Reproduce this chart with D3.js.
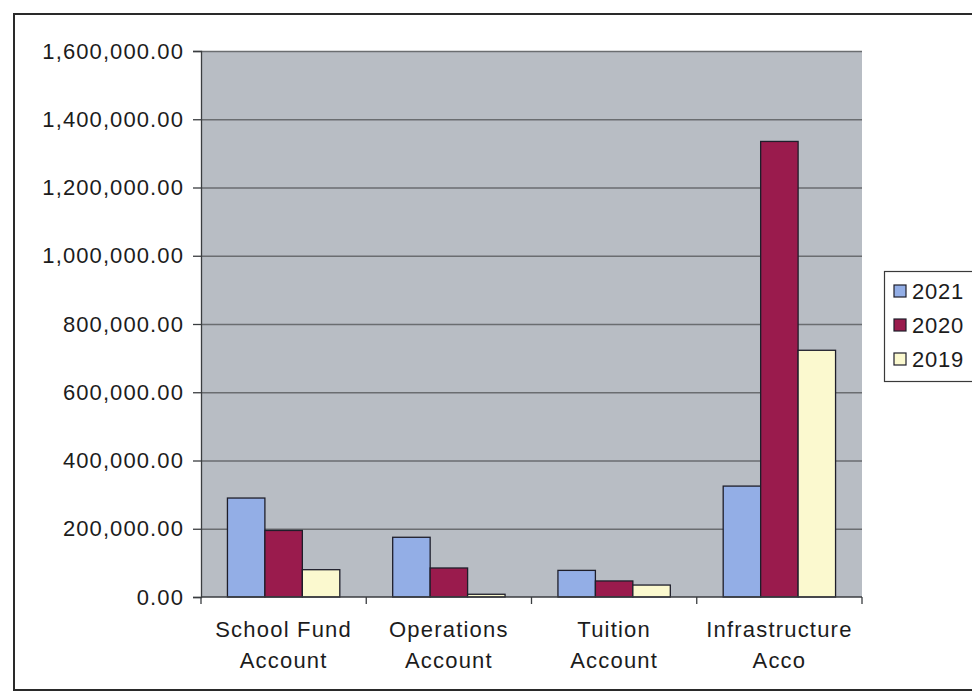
<!DOCTYPE html>
<html>
<head>
<meta charset="utf-8">
<script src="https://cdn.jsdelivr.net/npm/d3@7"></script>
<style>
  html, body { margin: 0; padding: 0; background: #ffffff; }
  svg { display: block; font-family: "Liberation Sans", Arial, sans-serif; }
</style>
</head>
<body>
<svg id="chart" width="972" height="694"></svg>
<script>
// Account balances by year
const categories = [["School Fund", "Account"], ["Operations", "Account"], ["Tuition", "Account"], ["Infrastructure", "Acco"]];
const seriesNames = ["2021", "2020", "2019"];
const values2021 = [290000, 175000, 78000, 325000];
const values2020 = [195000, 85000, 47000, 1335000];
const values2019 = [80000, 8000, 35000, 723000];
const yTicks = [0, 200000, 400000, 600000, 800000, 1000000, 1200000, 1400000, 1600000];

const seriesValues = [values2021, values2020, values2019];
const colors = ["#93aee6", "#9a1b4d", "#fbf9cf"];

const svg = d3.select("#chart");
const W = 972, H = 694;
const plot = { left: 201, top: 51, right: 862, bottom: 597 };

// Outer chart frame
svg.append("rect")
  .attr("x", 14).attr("y", 14)
  .attr("width", W + 10).attr("height", 676)
  .attr("fill", "#ffffff")
  .attr("stroke", "#2a2a2a").attr("stroke-width", 2);

const x0 = d3.scaleBand()
  .domain(d3.range(categories.length))
  .range([plot.left, plot.right])
  .paddingInner(0.32).paddingOuter(0.16);
const x1 = d3.scaleBand()
  .domain(d3.range(seriesNames.length))
  .range([0, x0.bandwidth()]);
const y = d3.scaleLinear().domain([0, 1600000]).range([plot.bottom, plot.top]);

// Plot area
svg.append("rect")
  .attr("x", plot.left).attr("y", plot.top)
  .attr("width", plot.right - plot.left).attr("height", plot.bottom - plot.top)
  .attr("fill", "#b8bdc4");

// Gridlines
svg.append("g")
  .selectAll("line")
  .data(yTicks.filter(d => d > 0))
  .join("line")
  .attr("x1", plot.left).attr("x2", plot.right)
  .attr("y1", d => y(d) + 0.5).attr("y2", d => y(d) + 0.5)
  .attr("stroke", "#6a6d70").attr("stroke-width", 1.3);

// Bars
const groups = svg.append("g")
  .selectAll("g")
  .data(categories.map((c, i) => i))
  .join("g")
  .attr("transform", i => `translate(${x0(i)},0)`);

groups.selectAll("rect")
  .data(i => seriesValues.map((vals, s) => ({ s, v: vals[i] })))
  .join("rect")
  .attr("x", d => x1(d.s))
  .attr("y", d => y(d.v))
  .attr("width", x1.bandwidth())
  .attr("height", d => y(0) - y(d.v))
  .attr("fill", d => colors[d.s])
  .attr("stroke", "#1e1e2a").attr("stroke-width", 1.3);

// Y axis
const yAxis = d3.axisLeft(y)
  .tickValues(yTicks)
  .tickSize(8)
  .tickPadding(9)
  .tickFormat(d3.format(",.2f"));
const gy = svg.append("g")
  .attr("transform", `translate(${plot.left},0)`)
  .call(yAxis);
gy.select(".domain").attr("stroke", "#3a3d40").attr("stroke-width", 1.3);
gy.selectAll(".tick line").attr("stroke", "#3a3d40").attr("stroke-width", 1.3);
gy.selectAll(".tick text")
  .attr("font-size", 22)
  .attr("letter-spacing", "1.1px")
  .attr("fill", "#1c1c1c")
  .attr("font-family", "Liberation Sans, Arial, sans-serif");

// X axis with ticks between categories
const xEdges = d3.range(categories.length + 1).map(i =>
  plot.left + i * (plot.right - plot.left) / categories.length);
const gx = svg.append("g");
gx.append("line")
  .attr("x1", plot.left).attr("x2", plot.right)
  .attr("y1", plot.bottom).attr("y2", plot.bottom)
  .attr("stroke", "#3a3d40").attr("stroke-width", 1.3);
gx.selectAll("line.tick")
  .data(xEdges)
  .join("line")
  .attr("class", "tick")
  .attr("x1", d => d).attr("x2", d => d)
  .attr("y1", plot.bottom).attr("y2", plot.bottom + 7)
  .attr("stroke", "#3a3d40").attr("stroke-width", 1.3);

// Category labels
const labels = gx.selectAll("text")
  .data(categories.map((c, i) => ({ c, i })))
  .join("text")
  .attr("text-anchor", "middle")
  .attr("font-size", 22)
  .attr("letter-spacing", "1.2px")
  .attr("fill", "#1c1c1c");
labels.each(function(d) {
  const cx = x0(d.i) + x0.bandwidth() / 2;
  d3.select(this).selectAll("tspan")
    .data(d.c)
    .join("tspan")
    .attr("x", cx)
    .attr("y", (t, k) => 637 + k * 31)
    .text(t => t);
});

// Legend
const legend = svg.append("g");
legend.append("rect")
  .attr("x", 884.5).attr("y", 271.5)
  .attr("width", 100).attr("height", 110)
  .attr("fill", "#ffffff").attr("stroke", "#3a3a3a").attr("stroke-width", 1.2);
const items = legend.selectAll("g.item")
  .data(seriesNames.map((n, i) => ({ n, i })))
  .join("g")
  .attr("class", "item")
  .attr("transform", d => `translate(0,${291 + d.i * 34})`);
items.append("rect")
  .attr("x", 894).attr("y", -6)
  .attr("width", 12).attr("height", 12)
  .attr("fill", d => colors[d.i])
  .attr("stroke", "#1e1e2a").attr("stroke-width", 1.2);
items.append("text")
  .attr("x", 912).attr("y", 8)
  .attr("font-size", 22)
  .attr("letter-spacing", "0.8px")
  .attr("fill", "#1c1c1c")
  .text(d => d.n);
</script>
</body>
</html>
